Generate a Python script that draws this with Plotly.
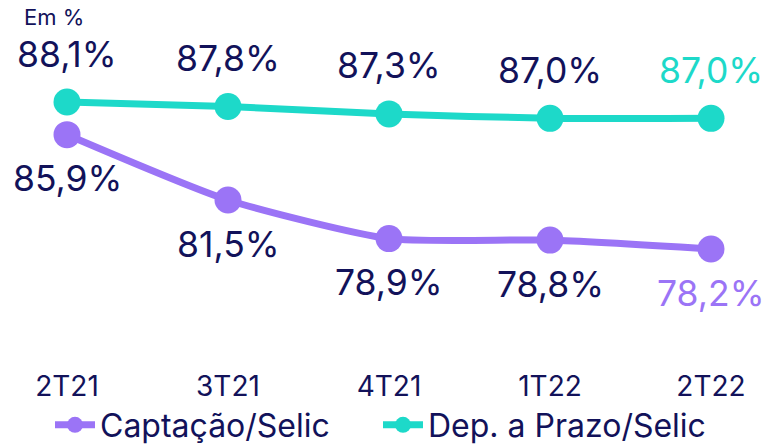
import plotly.graph_objects as go

categories = ["2T21", "3T21", "4T21", "1T22", "2T22"]
captacao = [85.9, 81.5, 78.9, 78.8, 78.2]
dep_prazo = [88.1, 87.8, 87.3, 87.0, 87.0]
series_names = ["Captação/Selic", "Dep. a Prazo/Selic"]

PURPLE = "#9B74F6"
TEAL = "#1DD9C9"
NAVY = "#12125A"
FONT = "Inter"

def fmt(v):
    return f"{v:.1f}%".replace(".", ",")

xs = list(range(len(categories)))
fig = go.Figure()
fig.add_trace(go.Scatter(x=xs, y=captacao, name=series_names[0], mode="lines+markers",
                         line=dict(color=PURPLE, width=7, shape="spline", smoothing=0.6),
                         marker=dict(size=27, color=PURPLE)))
fig.add_trace(go.Scatter(x=xs, y=dep_prazo, name=series_names[1], mode="lines+markers",
                         line=dict(color=TEAL, width=7, shape="spline", smoothing=0.6),
                         marker=dict(size=27, color=TEAL)))

annotations = []
n = len(categories)
for i, (a, b) in enumerate(zip(captacao, dep_prazo)):
    last = i == n - 1
    annotations.append(dict(x=i, y=b, text=fmt(b), showarrow=False, yshift=48,
                            font=dict(size=35.5, color=TEAL if last else NAVY, family=FONT)))
    annotations.append(dict(x=i, y=a, text=fmt(a), showarrow=False, yshift=-44,
                            font=dict(size=35.5, color=PURPLE if last else NAVY, family=FONT)))
annotations.append(dict(xref="paper", yref="paper", x=22 / 767, y=1 - 17 / 360, xanchor="left",
                        yanchor="middle", text="Em %", showarrow=False,
                        font=dict(size=22, color=NAVY, family=FONT)))

fig.update_layout(
    width=767, height=445,
    margin=dict(l=0, r=0, t=0, b=85, autoexpand=False),
    paper_bgcolor="white", plot_bgcolor="white",
    font=dict(family=FONT, color=NAVY),
    xaxis=dict(range=[-67 / 161, 4 + 56 / 161], tickvals=xs, ticktext=categories,
               showgrid=False, zeroline=False, showline=False, ticks="", automargin=False,
               tickfont=dict(size=28, color=NAVY, family=FONT), ticklabelstandoff=7),
    yaxis=dict(range=[88.1 - 258 / 14.85, 88.1 + 102 / 14.85], visible=False, automargin=False),
    showlegend=True,
    legend=dict(orientation="h", x=50 / 767, y=1 - 425 / 445, xref="container", yref="container",
                xanchor="left", yanchor="middle",
                font=dict(size=32, color=NAVY, family=FONT), itemwidth=40,
                entrywidth=273, entrywidthmode="pixels",
                traceorder="normal"),
    annotations=annotations,
)
fig.write_html("out.html")
